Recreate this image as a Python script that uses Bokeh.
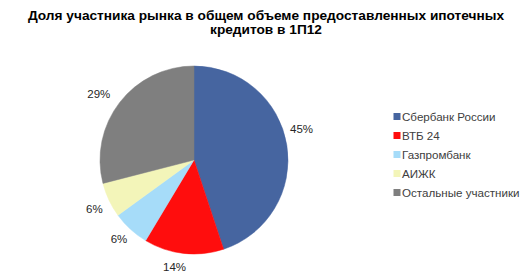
import numpy as np
from bokeh.plotting import figure
from bokeh.models import Range1d
from bokeh.core.properties import value
from bokeh.embed import file_html
from bokeh.resources import INLINE

# ---- data ----
title_lines = ["Доля участника рынка в общем объеме предоставленных ипотечных",
               "кредитов в 1П12"]
categories = ["Сбербанк России", "ВТБ 24", "Газпромбанк", "АИЖК", "Остальные участники"]
shares = [44.9, 13.7, 6.4, 6.0, 29.0]
pct_labels = ["45%", "14%", "6%", "6%", "29%"]
colors = ["#4665A0", "#FF0D0D", "#A6DCF9", "#F3F5B9", "#7F7F7F"]

# ---- layout / style ----
W, H = 529, 280
FONT = "Liberation Sans"
cx, cy_pix, R = 193.5, 159.5, 94
label_angle_shift = [-7, 4, 1, -1, -3]   # degrees, label placement tweaks
label_radius = [112, 109, 109, 111, 116]


def Y(ypix):
    return H - np.asarray(ypix, dtype=float)


p = figure(width=W, height=H, x_range=Range1d(0, W), y_range=Range1d(0, H),
           output_backend="svg", toolbar_location=None, min_border=0,
           x_axis_location=None, y_axis_location=None)
p.grid.visible = False
p.outline_line_color = None
p.background_fill_color = "white"
p.border_fill_color = "white"

# pie
vals = np.array(shares, dtype=float)
frac = vals / vals.sum()
cum = np.concatenate([[0.0], np.cumsum(frac)])
start = np.pi / 2 - 2 * np.pi * cum[:-1]
end = np.pi / 2 - 2 * np.pi * cum[1:]
n = len(vals)
p.wedge(x=[cx] * n, y=list(Y([cy_pix] * n)), radius=R,
        start_angle=list(start), end_angle=list(end), direction="clock",
        fill_color=colors, line_color=colors, line_width=0.5)

# percentage labels
mid = (cum[:-1] + cum[1:]) / 2 * 360 + np.array(label_angle_shift)
theta = np.radians(mid)
lr = np.array(label_radius, dtype=float)
lx = cx + lr * np.sin(theta)
ly = Y(cy_pix) + lr * np.cos(theta)
p.text(x=list(lx), y=list(ly), text=pct_labels, text_font=value(FONT),
       text_font_size="11.5px", text_color="#262626", text_align="center",
       text_baseline="middle")

# title
p.text(x=[W / 2 + 1] * 2, y=list(Y([15, 29])), text=title_lines, text_font=value(FONT),
       text_font_size="13.7px", text_font_style="bold", text_color="black",
       text_align="center", text_baseline="middle")

# legend
row_y = Y(116 + 19 * np.arange(len(categories)))
p.rect(x=[396.5] * len(categories), y=list(row_y), width=7, height=7,
       fill_color=colors, line_color=None)
p.text(x=[401.5] * len(categories), y=list(row_y), text=categories, text_font=value(FONT),
       text_font_size="11.6px", text_color="#404040", text_align="left",
       text_baseline="middle")

open("out.html", "w").write(file_html(p, INLINE))
